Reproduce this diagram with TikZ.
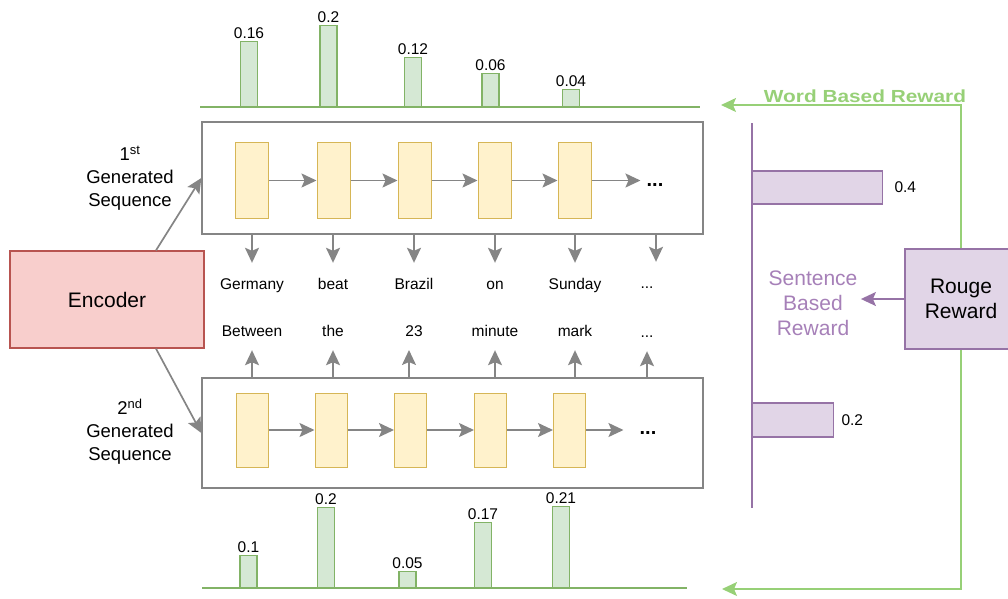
\documentclass[tikz,border=0pt]{standalone}
\usepackage{fontspec}
\setmainfont{Liberation Sans}
\usetikzlibrary{arrows.meta}
\definecolor{gfill}{HTML}{D5E8D4}
\definecolor{gline}{HTML}{82B366}
\definecolor{glight}{HTML}{97D077}
\definecolor{yfill}{HTML}{FFF2CC}
\definecolor{yline}{HTML}{D6B656}
\definecolor{rfill}{HTML}{F8CECC}
\definecolor{rline}{HTML}{B85450}
\definecolor{pfill}{HTML}{E1D5E7}
\definecolor{pline}{HTML}{9673A6}
\definecolor{ptext}{HTML}{A680B8}
\definecolor{grey}{HTML}{858585}
\begin{document}
\begin{tikzpicture}[x=1pt,y=-1pt,
  headtip/.style={-{Stealth[length=15pt,width=14pt,inset=3pt]}},
  gbar/.style={draw=gline,fill=gfill,line width=1.3pt,minimum width=17pt,inner sep=0pt,anchor=south},
  cell/.style={draw=yline,fill=yfill,line width=1pt,minimum width=33pt,minimum height=76pt,inner sep=0pt},
  seqbox/.style={draw=grey,line width=1.3pt,minimum width=501pt,inner sep=0pt},
  garrow/.style={draw=grey,line width=1.7pt,headtip},
  grarrow/.style={draw=glight,line width=1.4pt,headtip},
  parrow/.style={draw=pline,line width=1.4pt,headtip},
  numlab/.style={font=\fontsize{15.5}{18}\selectfont,inner sep=2pt,anchor=south},
  word/.style={font=\fontsize{15.5}{18}\selectfont,text height=11pt,text depth=3pt,inner sep=0pt},
  dots/.style={font=\fontsize{20}{24}\selectfont\bfseries,inner sep=2pt},
  pbar/.style={draw=pline,fill=pfill,line width=1.3pt,inner sep=0pt,anchor=west},
  biglab/.style={font=\fontsize{18.5}{23}\selectfont,align=center}
]
\useasboundingbox (0,0) rectangle (1008,598);
\clip (0,0) rectangle (1008,598);

% ---------- top word-level bars ----------
\coordinate (tb0) at (200,107);
\coordinate (tb1) at (700,107);
\draw[gline,line width=1.5pt] (tb0) -- (tb1);
\node[gbar,minimum height=65pt] (u1) at (249,107) {};
\node[gbar,minimum height=81pt] (u2) at (328.5,107) {};
\node[gbar,minimum height=49pt] (u3) at (413,107) {};
\node[gbar,minimum height=33pt] (u4) at (490.5,107) {};
\node[gbar,minimum height=17pt] (u5) at (571,107) {};
\node[numlab] (ul1) at (u1.north) {0.16};
\node[numlab] (ul2) at (u2.north) {0.2};
\node[numlab] (ul3) at (u3.north) {0.12};
\node[numlab] (ul4) at (u4.north) {0.06};
\node[numlab] (ul5) at (u5.north) {0.04};

% ---------- bottom word-level bars ----------
\coordinate (bb0) at (202,588);
\coordinate (bb1) at (687,588);
\draw[gline,line width=1.5pt] (bb0) -- (bb1);
\node[gbar,minimum height=32pt] (v1) at (248.5,588) {};
\node[gbar,minimum height=80pt] (v2) at (326,588) {};
\node[gbar,minimum height=16pt] (v3) at (407.5,588) {};
\node[gbar,minimum height=65pt] (v4) at (483,588) {};
\node[gbar,minimum height=81pt] (v5) at (561,588) {};
\node[numlab] (vl1) at (v1.north) {0.1};
\node[numlab] (vl2) at (v2.north) {0.2};
\node[numlab] (vl3) at (v3.north) {0.05};
\node[numlab] (vl4) at (v4.north) {0.17};
\node[numlab] (vl5) at (v5.north) {0.21};

% ---------- encoder ----------
\node[draw=rline,fill=rfill,line width=1.3pt,minimum width=194pt,minimum height=97pt,
      font=\fontsize{21}{25}\selectfont] (enc) at (107,299.5) {Encoder};

% ---------- sequence boxes ----------
\node[seqbox,minimum height=112pt] (seq1) at (452.5,178) {};
\node[seqbox,minimum height=110pt] (seq2) at (452.5,433) {};

\node[biglab] (lab1) at (130,178) {1\textsuperscript{st}\\Generated\\Sequence};
\node[biglab] (lab2) at (130,432) {2\textsuperscript{nd}\\Generated\\Sequence};

\draw[garrow] ([xshift=49pt]enc.north) -- (seq1.west);
\draw[garrow] ([xshift=49pt]enc.south) -- (seq2.west);

% top cells
\node[cell] (t1) at (252.4,180.5) {};
\node[cell] (t2) at (333.5,180.5) {};
\node[cell] (t3) at (414.5,180.5) {};
\node[cell] (t4) at (494.5,180.5) {};
\node[cell] (t5) at (574.5,180.5) {};
\node[dots] (td) at (655,185) {...};
\draw[garrow] (t1.east) -- (t2.west);
\draw[garrow] (t2.east) -- (t3.west);
\draw[garrow] (t3.east) -- (t4.west);
\draw[garrow] (t4.east) -- (t5.west);
\draw[garrow,shorten >=4pt] (t5.east) -- (t5.east -| td.west);

% bottom cells
\node[cell,minimum width=32pt,minimum height=74pt] (b1) at (252,430) {};
\node[cell,minimum width=32pt,minimum height=74pt] (b2) at (331,430) {};
\node[cell,minimum width=32pt,minimum height=74pt] (b3) at (410.5,430) {};
\node[cell,minimum width=32pt,minimum height=74pt] (b4) at (490.5,430) {};
\node[cell,minimum width=32pt,minimum height=74pt] (b5) at (569.5,430) {};
\node[dots] (bd) at (648,433) {...};
\draw[garrow] (b1.east) -- (b2.west);
\draw[garrow] (b2.east) -- (b3.west);
\draw[garrow] (b3.east) -- (b4.west);
\draw[garrow] (b4.east) -- (b5.west);
\draw[garrow,shorten >=14pt] (b5.east) -- (b5.east -| bd.west);

% words
\node[word] (w1) at (252,285) {Germany};
\node[word] (w2) at (333,285) {beat};
\node[word] (w3) at (414,285) {Brazil};
\node[word] (w4) at (495,285) {on};
\node[word] (w5) at (575,285) {Sunday};
\node[word] (w6) at (647,284) {...};
\node[word] (x1) at (252,332) {Between};
\node[word] (x2) at (333,332) {the};
\node[word] (x3) at (414,332) {23};
\node[word] (x4) at (495,332) {minute};
\node[word] (x5) at (575,332) {mark};
\node[word] (x6) at (647,333) {...};

\foreach \i in {1,...,5}{
  \draw[garrow,shorten >=15pt] (w\i |- seq1.south) -- (w\i.north);
}
\draw[garrow,shorten >=15pt] ([xshift=9pt]w6 |- seq1.south) -- ([xshift=9pt]w6.north);
\draw[garrow,shorten >=11pt] (b1 |- seq2.north) -- (b1 |- x1.south);
\draw[garrow,shorten >=11pt] (x2 |- seq2.north) -- (x2.south);
\draw[garrow,shorten >=11pt] (409,378) -- (409,339);
\draw[garrow,shorten >=11pt] (x4 |- seq2.north) -- (x4.south);
\draw[garrow,shorten >=11pt] (x5 |- seq2.north) -- (x5.south);
\draw[garrow,shorten >=11pt] (x6 |- seq2.north) -- (x6.south);

% ---------- reward side ----------
\coordinate (wtend) at (721,105);
\coordinate (wbend) at (722,589);
\node[draw=pline,fill=pfill,line width=1.3pt,minimum width=112pt,minimum height=100pt,
      align=center,font=\fontsize{21}{25}\selectfont] (rouge) at (961,299) {};
\draw[grarrow] (rouge.north) |- (wtend);
\draw[grarrow] (rouge.south) |- (wbend);
\node[draw=pline,fill=pfill,line width=1.3pt,minimum width=112pt,minimum height=100pt,
      align=center,font=\fontsize{21}{25}\selectfont] (rouge2) at (961,299) {Rouge\\Reward};
\node[text=glight,font=\fontsize{17.5}{21}\selectfont\bfseries,anchor=base,inner sep=0pt] (wbr) at (865,102.5) {\scalebox{1.19}[1]{Word Based Reward}};

\coordinate (ax0) at (752,123);
\coordinate (ax1) at (752,508);
\draw[pline,line width=1.3pt] (ax0) -- (ax1);
\node[pbar,minimum width=130pt,minimum height=33pt] (s1) at (752,187.5) {};
\node[pbar,minimum width=81pt,minimum height=34pt] (s2) at (752,420) {};
\node[font=\fontsize{15.5}{18}\selectfont,anchor=west,inner sep=0pt] (sl1) at ([xshift=11pt]s1.east) {0.4};
\node[font=\fontsize{15.5}{18}\selectfont,anchor=west,inner sep=0pt] (sl2) at ([xshift=7pt]s2.east) {0.2};

\node[text=ptext,font=\fontsize{21}{25}\selectfont,align=center] (sbr) at (813,303) {Sentence\\Based\\Reward};
\draw[parrow] (rouge2.west) -- (rouge2.west -| sbr.east);
\end{tikzpicture}
\end{document}
